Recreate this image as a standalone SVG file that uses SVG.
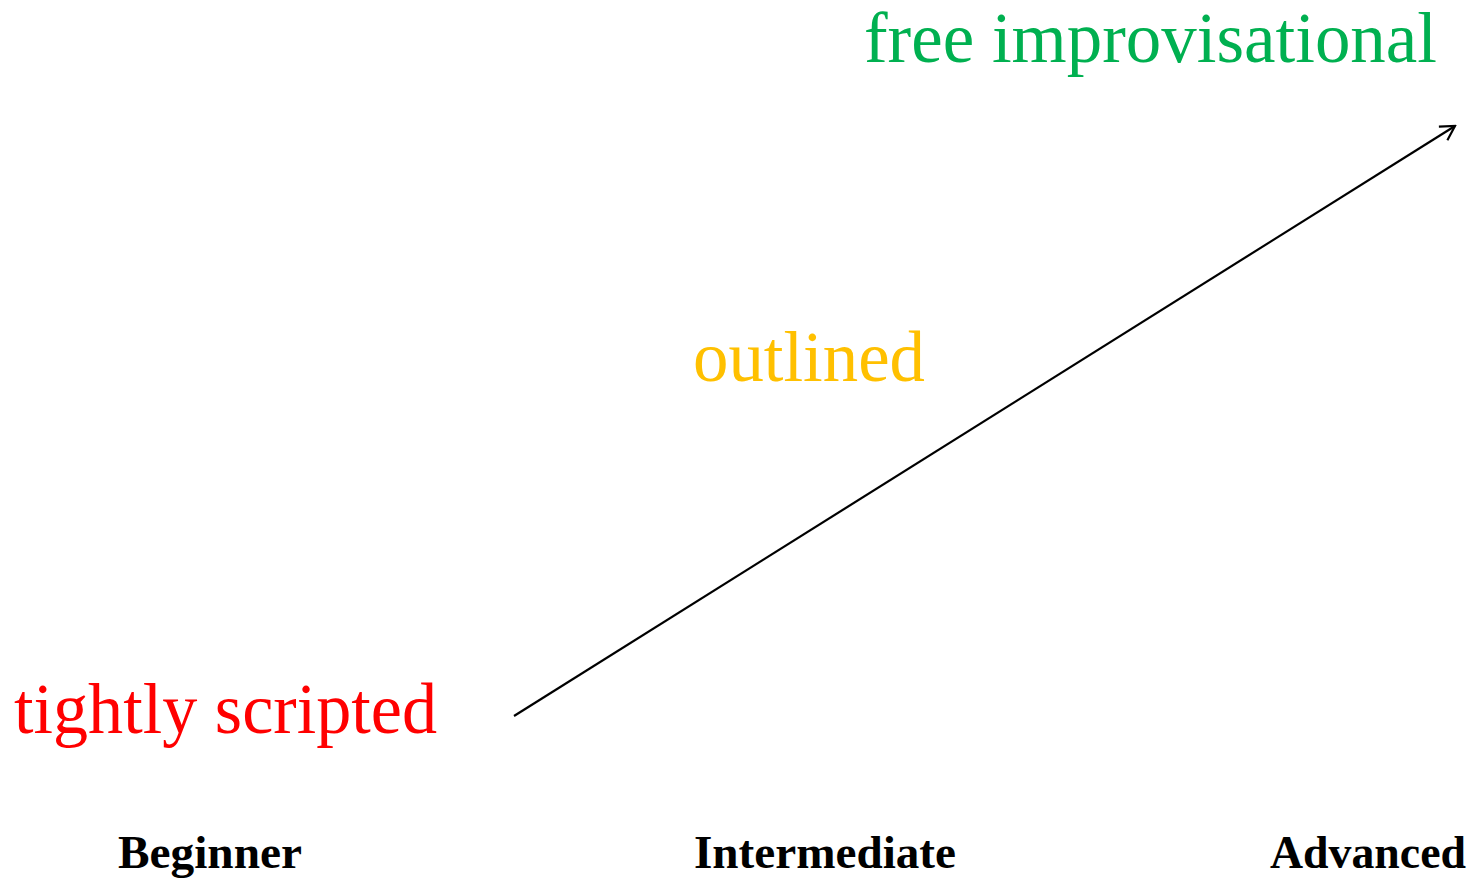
<svg xmlns="http://www.w3.org/2000/svg" width="1474" height="880" viewBox="0 0 1474 880">
<style>
.lbl{font-family:"Liberation Serif","Times New Roman",serif;font-size:72px}
.axis{font-family:"Liberation Serif","Times New Roman",serif;font-size:46px;font-weight:bold;fill:#000}
</style>
<defs>
<marker id="ah" viewBox="0 0 20 20" refX="18" refY="10" markerWidth="20" markerHeight="20" markerUnits="userSpaceOnUse" orient="auto">
<path d="M4,2 L18,10 L4,18" fill="none" stroke="#000" stroke-width="2.2"/>
</marker>
</defs>
<rect width="1474" height="880" fill="#fff"/>
<g id="connectors">
<line x1="514" y1="716" x2="1455" y2="126" stroke="#000" stroke-width="2.2" marker-end="url(#ah)"/>
</g>
<g id="tightly-scripted"><text class="lbl" x="14" y="733" fill="#FF0000" textLength="423" lengthAdjust="spacingAndGlyphs">tightly scripted</text></g>
<g id="outlined"><text class="lbl" x="693" y="381" fill="#FFC000" textLength="232" lengthAdjust="spacingAndGlyphs">outlined</text></g>
<g id="free-improvisational"><text class="lbl" x="864" y="62" fill="#00B050" textLength="573" lengthAdjust="spacingAndGlyphs">free improvisational</text></g>
<g id="beginner"><text class="axis" x="118" y="868" textLength="184" lengthAdjust="spacingAndGlyphs">Beginner</text></g>
<g id="intermediate"><text class="axis" x="694" y="868" textLength="262" lengthAdjust="spacingAndGlyphs">Intermediate</text></g>
<g id="advanced"><text class="axis" x="1270" y="868" textLength="196" lengthAdjust="spacingAndGlyphs">Advanced</text></g>
</svg>
